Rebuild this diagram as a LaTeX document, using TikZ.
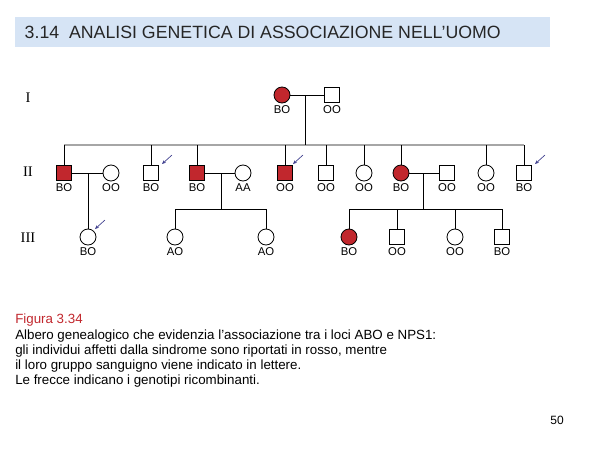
\documentclass[tikz,border=0pt]{standalone}
\usepackage{fontspec}
\setmainfont{Liberation Sans}
\newfontfamily\romanf{Liberation Serif}
\usetikzlibrary{arrows.meta}
\definecolor{affred}{HTML}{C1272D}
\definecolor{titlebg}{HTML}{D6E4F5}
\definecolor{arrblue}{HTML}{3C3C8C}
\tikzset{
 px/.style={x=0.75pt,y=-0.75pt},
 sq/.style={draw,line width=0.6pt,minimum size=11.5pt,inner sep=0pt,fill=white},
 ci/.style={draw,circle,line width=0.6pt,minimum size=12pt,inner sep=0pt,fill=white},
 aff/.style={fill=affred},
 lab/.style={font=\fontsize{8.5}{9}\selectfont,inner sep=0pt},
 ln/.style={line width=0.7pt},
 gl/.style={line width=0.9pt,draw=gray!70},
 rec/.style={-{Stealth[length=3pt,width=2.5pt]},draw=arrblue,line width=0.5pt},
 gen/.style={font=\romanf\fontsize{11}{12}\selectfont},
}
\begin{document}
\begin{tikzpicture}[px]
\useasboundingbox (0,0) rectangle (600,450);
\node[fill=titlebg,minimum width=401pt,minimum height=22.5pt,inner sep=0pt,anchor=north west] (title) at (15,17) {};
\node[anchor=west,font=\fontsize{13.3}{14}\selectfont,text=black!85] (tt) at (20,32) {3.14\ \ ANALISI GENETICA DI ASSOCIAZIONE NELL’UOMO};
\node[gen] (g1) at (28,98) {I};
\node[gen] (g2) at (28,172) {II};
\node[gen] (g3) at (28,238) {III};
% gen I
\node[ci,aff] (i1) at (282,95) {};
\node[sq] (i2) at (332,95) {};
\draw[ln] (i1) -- (i2);
\coordinate (m1) at (305,95);
\coordinate (s1) at (305,145);
% gen II
\foreach \n/\x/\s/\a in {a/64/sq/1,b/111/ci/0,c/151/sq/0,d/197/sq/1,e/243/ci/0,f/285/sq/1,g/326/sq/0,h/364/ci/0,k/401/ci/1,l/447/sq/0,m/486/ci/0,n/524/sq/0}{
  \ifnum\a=1 \node[\s,aff] (\n) at (\x,173) {}; \else \node[\s] (\n) at (\x,173) {}; \fi
}
\draw[gl] (64,145) coordinate (sl) -- (524,145) coordinate (sr);
\draw[ln] (m1) -- (s1);
\foreach \n/\x in {a/64,c/151,d/197,f/285,g/326,h/364,k/401,m/486,n/524}{
  \draw[ln] (\x,145) -- (\n);
}
\draw[ln] (a) -- (b);
\draw[ln] (d) -- (e);
\draw[ln] (k) -- (l);
\foreach \n/\t in {i1/BO,i2/OO,a/BO,b/OO,c/BO,d/BO,e/AA,f/OO,g/OO,h/OO,k/BO,l/OO,m/OO,n/BO}{
  \node[lab,anchor=north] at ([yshift=-1.5pt]\n.south) {\t};
}
% gen III
\node[ci] (p) at (88,237) {};
\draw[ln] (88,173) -- (p);
\node[ci] (q) at (175,237) {};
\node[ci] (r) at (266,237) {};
\draw[ln] (221,173) -- (221,209);
\draw[ln] (175,209) -- (266,209);
\draw[ln] (175,209) -- (q);
\draw[ln] (266,209) -- (r);
\node[ci,aff] (t) at (349,237) {};
\node[sq] (u) at (397,237) {};
\node[ci] (v) at (455,237) {};
\node[sq] (w) at (502,237) {};
\draw[ln] (423,173) -- (423,209);
\draw[ln] (349,209) -- (502,209);
\foreach \n/\x in {t/349,u/397,v/455,w/502}{\draw[ln] (\x,209) -- (\n);}
\foreach \n/\t in {p/BO,q/AO,r/AO,t/BO,u/OO,v/OO,w/BO}{
  \node[lab,anchor=north] at ([yshift=-1.5pt]\n.south) {\t};
}
% recombinant arrows
\draw[rec] (172,155) -- (162,164);
\draw[rec] (303,155) -- (293,164);
\draw[rec] (545,155) -- (535,164);
\draw[rec] (105,220) -- (95,229);
% caption
\node[anchor=north west,align=left,inner sep=0pt,font=\fontsize{10}{11.3}\selectfont] (cap) at (15,314)
{\textcolor{affred}{Figura 3.34}\\
Albero genealogico che evidenzia l’associazione tra i loci ABO e NPS1:\\
gli individui affetti dalla sindrome sono riportati in rosso, mentre\\
il loro gruppo sanguigno viene indicato in lettere.\\
Le frecce indicano i genotipi ricombinanti.};
\node[font=\fontsize{9}{11}\selectfont] (pg) at (557,420) {50};
\end{tikzpicture}
\end{document}
